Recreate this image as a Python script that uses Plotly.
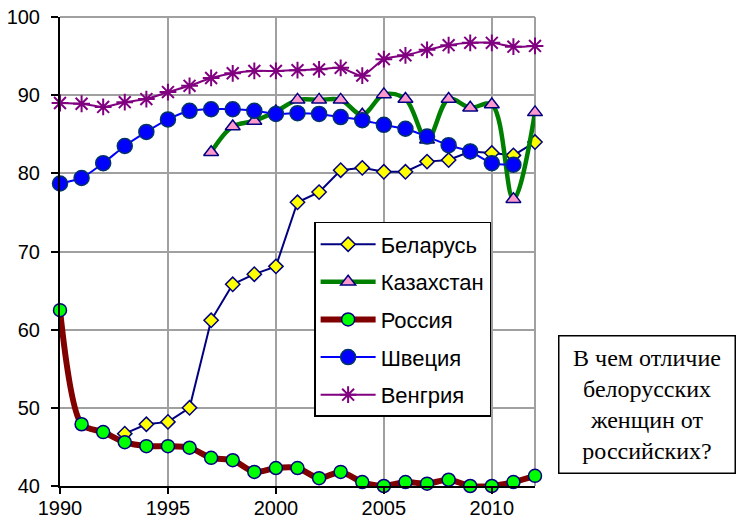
import plotly.graph_objects as go

years = list(range(1990, 2013))

belarus_years = list(range(1993, 2013))
belarus = [46.7, 47.9, 48.2, 50.0, 61.2, 65.8, 67.1, 68.1, 76.3, 77.6, 80.4, 80.7,
           80.2, 80.2, 81.5, 81.7, 82.8, 82.6, 82.3, 84.0]

kazakh_years = list(range(1997, 2013))
kazakhstan = [82.7, 86.0, 86.7, 87.9, 89.4, 89.4, 89.4, 87.5, 90.1, 89.5, 84.3,
              89.5, 88.4, 88.8, 76.7, 87.8]

russia = [62.5, 47.9, 46.9, 45.6, 45.1, 45.1, 44.9, 43.6, 43.3, 41.8, 42.3, 42.3,
          41.0, 41.8, 40.5, 40.0, 40.5, 40.3, 40.8, 40.0, 40.0, 40.5, 41.3]

sweden_years = list(range(1990, 2012))
sweden = [78.7, 79.4, 81.3, 83.5, 85.3, 86.9, 88.0, 88.2, 88.2, 88.0, 87.6, 87.7,
          87.6, 87.2, 86.8, 86.2, 85.7, 84.7, 83.6, 82.8, 81.3, 81.1]

hungary = [89.0, 88.9, 88.5, 89.1, 89.5, 90.4, 91.2, 92.2, 92.8, 93.1, 93.1, 93.2,
           93.3, 93.5, 92.5, 94.6, 95.1, 95.8, 96.4, 96.7, 96.7, 96.2, 96.3]

x_ticks = [1990, 1995, 2000, 2005, 2010]
y_ticks = [40, 50, 60, 70, 80, 90, 100]

fig = go.Figure()
fig.add_trace(go.Scatter(
    x=belarus_years, y=belarus, name="Беларусь", legendgroup="a", mode="lines+markers",
    cliponaxis=False,
    line=dict(color="#000080", width=2),
    marker=dict(symbol="diamond", size=11, color="#FFFF00",
                line=dict(color="#000080", width=1.5))))
fig.add_trace(go.Scatter(
    x=kazakh_years, y=kazakhstan, name="Казахстан", legendgroup="b", mode="lines+markers",
    cliponaxis=False,
    line=dict(color="#008000", width=4.5, shape="spline", smoothing=1.0),
    marker=dict(symbol="triangle-up", size=13, color="#FF99CC",
                line=dict(color="#000080", width=1.5))))
fig.add_trace(go.Scatter(
    x=years, y=russia, name="Россия", legendgroup="c", mode="lines+markers",
    cliponaxis=False,
    line=dict(color="#800000", width=6, shape="spline", smoothing=0.8),
    marker=dict(symbol="circle", size=13, color="#00FF00",
                line=dict(color="#000080", width=1.5))))
fig.add_trace(go.Scatter(
    x=sweden_years, y=sweden, name="Швеция", legendgroup="d", mode="lines+markers",
    cliponaxis=False,
    line=dict(color="#0000FF", width=2, shape="spline", smoothing=0.6),
    marker=dict(symbol="circle", size=15, color="#0000FF",
                line=dict(color="#003366", width=1.5))))
fig.add_trace(go.Scatter(
    x=years, y=hungary, name="Венгрия", legendgroup="e", mode="lines+markers",
    cliponaxis=False,
    line=dict(color="#800080", width=2, shape="spline", smoothing=0.6),
    marker=dict(symbol="asterisk-open", size=14, color="#800080",
                line=dict(color="#800080", width=2))))

axis_common = dict(showgrid=True, gridcolor="#A0A0A0", gridwidth=2,
                   showline=True, linecolor="black", linewidth=2,
                   ticks="outside", tickcolor="black", tickwidth=2,
                   zeroline=False, automargin=False, ticklabeloverflow="allow",
                   tickfont=dict(family="Liberation Sans, Arial", size=20, color="black"))
fig.update_xaxes(range=[1990, 2012], tickvals=x_ticks, ticklen=6, ticklabelstandoff=-3,
                 **axis_common)
fig.update_yaxes(range=[40, 100], tickvals=y_ticks, ticklen=7, ticklabelstandoff=7,
                 **axis_common)

fig.add_shape(type="line", xref="paper", yref="paper", x0=1, x1=1, y0=0, y1=1,
              line=dict(color="#A0A0A0", width=2), layer="below")
fig.add_shape(type="line", xref="paper", yref="paper", x0=0, x1=1, y0=1, y1=1,
              line=dict(color="#A0A0A0", width=2), layer="below")

fig.add_annotation(
    xref="paper", yref="paper", x=1.235, y=0.174, xanchor="center", yanchor="middle",
    text="В чем отличие<br>белорусских<br>женщин от<br>российских?",
    showarrow=False, align="center", width=173, height=134,
    bordercolor="black", borderwidth=1.5, bgcolor="white",
    font=dict(family="Liberation Serif, Times New Roman", size=24, color="black"))

fig.update_layout(
    width=742, height=525,
    margin=dict(l=60, r=207, t=17, b=39),
    plot_bgcolor="white", paper_bgcolor="white",
    legend=dict(x=0.535, y=0.563, xanchor="left", yanchor="top",
                bordercolor="black", borderwidth=1.5, bgcolor="white",
                font=dict(family="Liberation Sans, Arial", size=22, color="black"),
                tracegroupgap=6, itemwidth=55),
    showlegend=True,
)

fig.write_html("out.html", config={"displayModeBar": False},
               post_script="document.body.style.margin='0';document.body.style.overflow='hidden';")
